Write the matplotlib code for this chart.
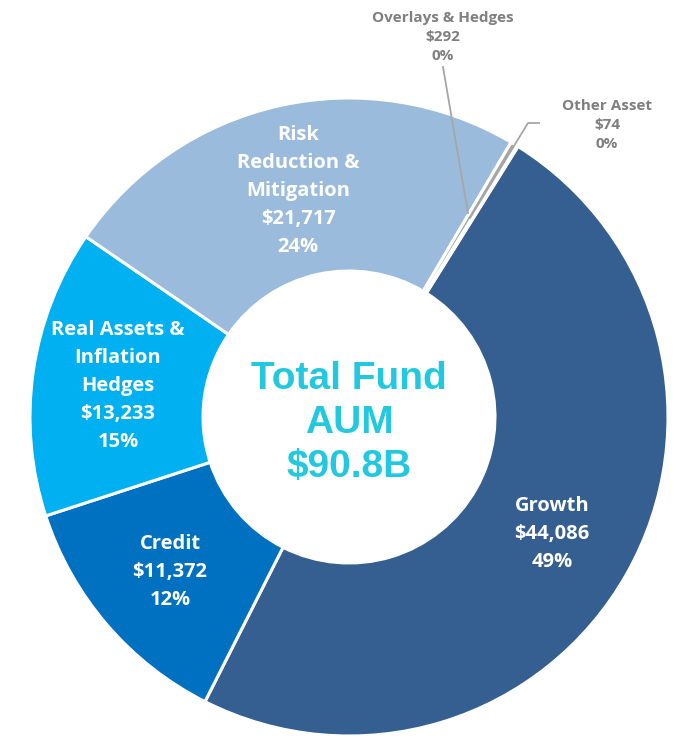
import matplotlib
matplotlib.use("Agg")
import matplotlib.pyplot as plt

categories = ["Growth", "Credit", "Real Assets &\nInflation\nHedges", "Risk\nReduction &\nMitigation",
              "Overlays & Hedges", "Other Asset"]
values = [44086, 11372, 13233, 21717, 292, 74]
value_labels = ["$44,086", "$11,372", "$13,233", "$21,717", "$292", "$74"]
pct_labels = ["49%", "12%", "15%", "24%", "0%", "0%"]
colors = ["#355E91", "#0070C0", "#00B0F0", "#9BBBDD", "#A5A5A5", "#7F7F7F"]
center_text = "Total Fund\nAUM\n$90.8B"

W, H = 677, 740
fig = plt.figure(figsize=(W / 100, H / 100), dpi=100)
ax = fig.add_axes([0, 0, 1, 1])
ax.set_xlim(0, W)
ax.set_ylim(0, H)
ax.set_aspect("equal")
ax.axis("off")

def Y(py):
    return H - py

cx, cy, R, Rin = 349, 417, 319, 146
ax.pie(values, colors=colors, startangle=58, counterclock=False,
       radius=R, center=(cx, Y(cy)), frame=True,
       wedgeprops=dict(width=R - Rin, edgecolor="white", linewidth=2.2))
ax.set_xlim(0, W)
ax.set_ylim(0, H)
ax.axis("off")

font = "Open Sans"
inner_pos = [(552, 534), (170, 572), (118, 386), (298, 191)]
for i, (px, py) in enumerate(inner_pos):
    txt = f"{categories[i]}\n{value_labels[i]}\n{pct_labels[i]}"
    ax.text(px, Y(py), txt, ha="center", va="center", color="white",
            fontsize=14.5, fontweight="bold", family=font, linespacing=1.52)

outer_pos = [(443, 37), (607, 125)]
for j, (px, py) in enumerate(outer_pos):
    i = 4 + j
    txt = f"{categories[i]}\n{value_labels[i]}\n{pct_labels[i]}"
    ax.text(px, Y(py), txt, ha="center", va="center", color="#7F7F7F",
            fontsize=11, fontweight="bold", family=font, linespacing=1.46)

# leader lines
ax.plot([443, 468], [Y(67), Y(213)], color="#A6A6A6", lw=1.3)
ax.plot([470, 528, 539], [Y(218), Y(123), Y(123)], color="#A6A6A6", lw=1.3)

ax.text(cx, Y(423), center_text, ha="center", va="center", color="#22C8E0",
        fontsize=28, fontweight="bold", family="Liberation Sans", linespacing=1.3)

fig.savefig("out.png", dpi=100)
